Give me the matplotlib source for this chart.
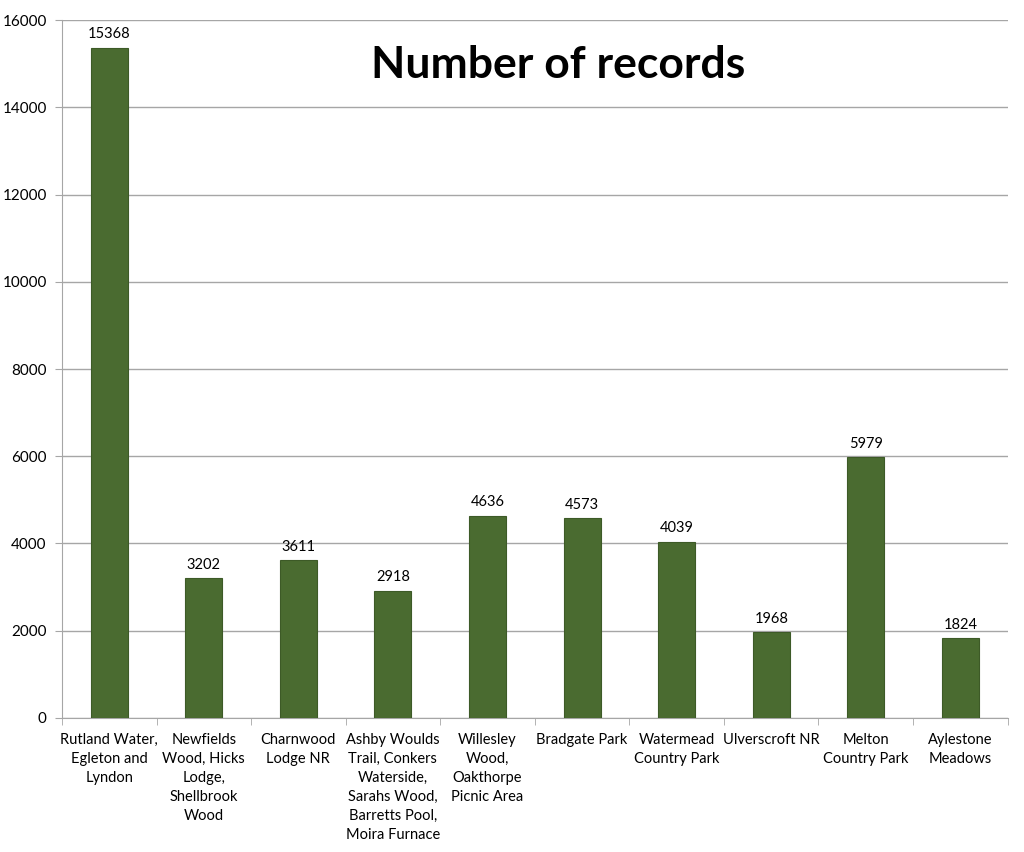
import matplotlib.pyplot as plt
import numpy as np

# Site names and record counts
sites = [
    "Rutland Water,\nEgleton and\nLyndon",
    "Newfields\nWood, Hicks\nLodge,\nShellbrook\nWood",
    "Charnwood\nLodge NR",
    "Ashby Woulds\nTrail, Conkers\nWaterside,\nSarahs Wood,\nBarretts Pool,\nMoira Furnace",
    "Willesley\nWood,\nOakthorpe\nPicnic Area",
    "Bradgate Park",
    "Watermead\nCountry Park",
    "Ulverscroft NR",
    "Melton\nCountry Park",
    "Aylestone\nMeadows",
]
records = [15368, 3202, 3611, 2918, 4636, 4573, 4039, 1968, 5979, 1824]
yticks = [0, 2000, 4000, 6000, 8000, 10000, 12000, 14000, 16000]

plt.rcParams['font.family'] = ['Lato', 'DejaVu Sans']

fig = plt.figure(figsize=(10.24, 8.52), dpi=100)
ax = fig.add_axes([0.0605, 0.1573, 0.9235, 0.8192])

x = np.arange(len(records))
ax.bar(x, records, width=0.39, color='#4a6b30', edgecolor='#3d5a27', linewidth=0.8, zorder=3)

# value labels above bars
for xi, v in zip(x, records):
    ax.text(xi, v + 150, str(v), ha='center', va='bottom', fontsize=10.5, color='black')

ax.set_xlim(-0.5, len(records) - 0.5)
ax.set_ylim(0, 16000)
ax.set_yticks(yticks)
ax.set_yticklabels([str(t) for t in yticks], fontsize=11)
ax.yaxis.grid(True, color='#a6a6a6', linewidth=1.0, zorder=0)
ax.tick_params(axis='y', length=5, color='#a6a6a6', pad=6)

# category labels between boundary ticks
ax.set_xticks(x)
ax.set_xticklabels(sites, fontsize=10.5, linespacing=1.45)
ax.tick_params(axis='x', length=0, pad=11)
ax.set_xticks(np.arange(len(records) + 1) - 0.5, minor=True)
ax.tick_params(axis='x', which='minor', length=5, color='#a6a6a6', direction='out')

for s in ['top', 'right']:
    ax.spines[s].set_visible(False)
ax.spines['left'].set_color('#a6a6a6')
ax.spines['bottom'].set_color('#a6a6a6')

ax.text(0.525, 0.935, "Number of records", transform=ax.transAxes,
        ha='center', va='center', fontsize=32, fontweight='bold')

fig.savefig('out.png', dpi=100)
